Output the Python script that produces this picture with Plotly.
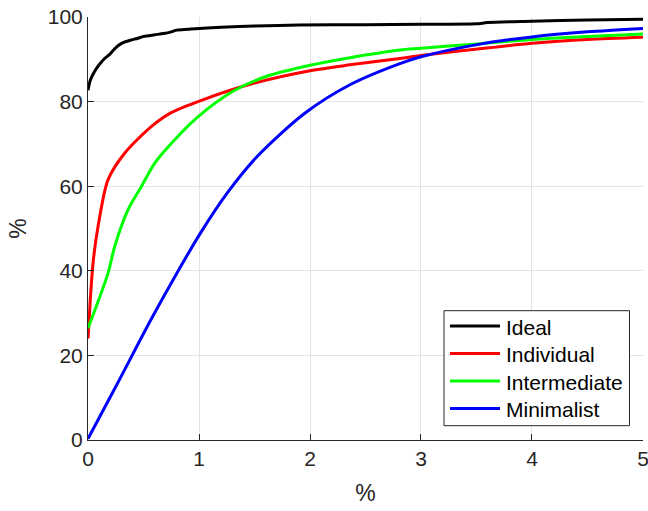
import plotly.graph_objects as go

ideal_x = [0, 0.02, 0.05, 0.08, 0.11, 0.15, 0.2, 0.23, 0.27, 0.32, 0.38, 0.45, 0.5, 0.6, 0.68, 0.75, 0.8, 0.9, 1.0, 1.2, 1.5, 1.9, 2.5, 3.0, 3.5, 3.6, 4.0, 4.5, 5.0]
ideal_y = [82.7, 85.0, 86.7, 88.0, 89.0, 90.2, 91.3, 92.2, 93.2, 94.0, 94.5, 95.0, 95.4, 95.8, 96.1, 96.5, 96.9, 97.1, 97.3, 97.6, 97.9, 98.1, 98.2, 98.3, 98.4, 98.7, 99.0, 99.3, 99.5]

indiv_x = [0, 0.01, 0.02, 0.048, 0.09, 0.18, 0.33, 0.57, 0.75, 1.01, 1.46, 2.0, 2.36, 2.81, 3.0, 3.53, 4.0, 4.5, 5.0]
indiv_y = [24.0, 28.0, 33.0, 42.5, 50.4, 61.5, 67.8, 74.1, 77.4, 80.2, 84.1, 87.3, 88.7, 90.2, 90.9, 92.5, 93.8, 94.7, 95.2]

inter_x = [0, 0.18, 0.24, 0.36, 0.48, 0.6, 0.75, 0.99, 1.31, 1.61, 2.0, 2.36, 2.81, 3.0, 3.53, 4.0, 4.5, 5.0]
inter_y = [26.4, 39.4, 45.7, 54.4, 59.9, 65.4, 70.1, 76.4, 82.5, 86.0, 88.6, 90.4, 92.2, 92.6, 93.7, 94.7, 95.4, 96.0]

minim_x = [0, 0.27, 0.57, 0.78, 1.01, 1.26, 1.53, 1.95, 2.36, 2.81, 3.0, 3.53, 4.0, 4.5, 5.0]
minim_y = [0.3, 13.6, 28.6, 38.5, 48.8, 58.6, 67.2, 77.2, 84.0, 89.0, 90.6, 93.6, 95.3, 96.5, 97.3]

names = ["Ideal", "Individual", "Intermediate", "Minimalist"]
colors = ["#000000", "#ff0000", "#00ff00", "#0000ff"]
xs = [ideal_x, indiv_x, inter_x, minim_x]
ys = [ideal_y, indiv_y, inter_y, minim_y]

x_ticks = [0, 1, 2, 3, 4, 5]
y_ticks = [0, 20, 40, 60, 80, 100]

# plot-area geometry (pixels)
PL, PR, PT, PB = 88, 643, 17, 440
W, H = 660, 511


def px(x):
    return (x - PL) / (PR - PL)


def py(y):
    return (PB - y) / (PB - PT)


fig = go.Figure()
for n, c, x, y in zip(names, colors, xs, ys):
    fig.add_trace(go.Scatter(x=x, y=y, mode="lines", name=n, showlegend=False,
                             line=dict(color=c, width=3, shape="spline", smoothing=0.8)))

font = "Liberation Sans, Arial, Helvetica, sans-serif"
axis_common = dict(showline=True, linecolor="#262626", linewidth=1,
                   ticks="inside", ticklen=6, tickcolor="#262626",
                   showgrid=True, gridcolor="#e3e3e3", gridwidth=1,
                   zeroline=False, automargin=False,
                   tickfont=dict(size=21, color="#262626", family=font),
                   title_font=dict(size=23, color="#262626", family=font))

fig.update_xaxes(range=[0, 5.0001], tickvals=x_ticks, title_text="%", title_standoff=15, **axis_common)
fig.update_yaxes(range=[0, 100.01], tickvals=y_ticks, title_text="%", title_standoff=14, **axis_common)

# legend box drawn as a framed key
shapes = [dict(type="rect", xref="paper", yref="paper",
               x0=px(444), x1=px(629.5), y0=py(425.7), y1=py(310.7),
               line=dict(color="#262626", width=1), fillcolor="white", layer="above")]
annotations = []
rows = [326, 353.5, 381, 408.5]
for n, c, ry in zip(names, colors, rows):
    shapes.append(dict(type="line", xref="paper", yref="paper",
                       x0=px(450), x1=px(500), y0=py(ry), y1=py(ry),
                       line=dict(color=c, width=3), layer="above"))
    annotations.append(dict(text=n, xref="paper", yref="paper", x=px(504), y=py(ry + 1),
                            xanchor="left", yanchor="middle", showarrow=False,
                            font=dict(size=21, color="#000000", family=font)))

fig.update_layout(
    width=W, height=H,
    margin=dict(l=PL, r=W - PR, t=PT, b=H - PB, autoexpand=False),
    paper_bgcolor="white", plot_bgcolor="white",
    font=dict(family=font, color="#262626"),
    showlegend=False,
    shapes=shapes, annotations=annotations,
)

fig.write_html("out.html", config={"displayModeBar": False},
               post_script="document.body.style.margin='0';document.body.style.overflow='hidden';document.documentElement.style.overflow='hidden';")
